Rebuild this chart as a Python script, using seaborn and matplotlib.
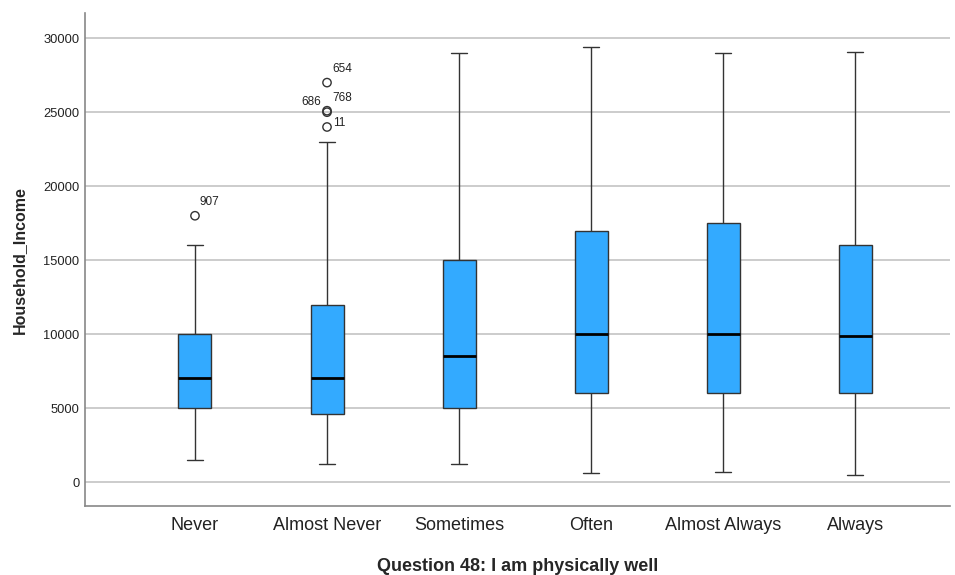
import pandas as pd
import matplotlib.pyplot as plt
import seaborn as sns

# Five-number summaries (low whisker, Q1, median, Q3, high whisker)
categories = ["Never", "Almost Never", "Sometimes", "Often", "Almost Always", "Always"]
whisker_low = [1500, 1200, 1200, 600, 700, 500]
q1 = [5000, 4600, 5000, 6000, 6000, 6000]
median = [7000, 7000, 8500, 10000, 10000, 9900]
q3 = [10000, 12000, 15000, 17000, 17500, 16000]
whisker_high = [16000, 23000, 29000, 29400, 29000, 29100]

# Outliers with their case labels
outlier_cat = ["Never", "Almost Never", "Almost Never", "Almost Never", "Almost Never"]
outlier_val = [18000, 24000, 25000, 25100, 27000]
outlier_id = ["907", "11", "686", "768", "654"]

rows = []
for i, cat in enumerate(categories):
    for v in (whisker_low[i], q1[i], median[i], q3[i], whisker_high[i]):
        rows.append({"cat": cat, "income": v})
df = pd.DataFrame(rows)
out_df = pd.DataFrame({"cat": outlier_cat, "income": outlier_val, "id": outlier_id})

sns.set_style("white")
plt.rcParams["font.family"] = ["Liberation Sans", "DejaVu Sans"]

fig = plt.figure(figsize=(9.55, 5.75), dpi=100)
ax = fig.add_axes([0.089, 0.12, 0.906, 0.857])

sns.boxplot(data=df, x="cat", y="income", order=categories, ax=ax,
            color="#33aaff", saturation=1, width=0.25, whis=(0, 100),
            showfliers=False, linecolor="#333333", linewidth=1,
            medianprops={"color": "black", "linewidth": 2},
            zorder=3)

sns.scatterplot(data=out_df, x="cat", y="income", ax=ax, marker="o", s=36,
                facecolor="none", edgecolor="#333333", linewidth=1, zorder=4)

# case labels next to outliers
label_style = {"907": (3, 10, "left"), "11": (4, 3, "left"), "686": (-4, 7, "right"),
               "768": (4, 9, "left"), "654": (4, 10, "left")}
for c, v, t in zip(outlier_cat, outlier_val, outlier_id):
    dx, dy, ha = label_style[t]
    ax.annotate(t, (categories.index(c), v), xytext=(dx, dy), textcoords="offset points",
                ha=ha, va="center", fontsize=8.5, color="#222222")

ax.set_xlim(-0.833, 5.72)
ax.set_ylim(-1620, 31690)
ax.set_yticks([0, 5000, 10000, 15000, 20000, 25000, 30000])
ax.yaxis.grid(True, color="#c8c8c8", linewidth=1.3, zorder=0)
ax.set_axisbelow(True)

for s in ["top", "right"]:
    ax.spines[s].set_visible(False)
for s in ["left", "bottom"]:
    ax.spines[s].set_color("#888888")
    ax.spines[s].set_linewidth(1.2)

ax.tick_params(axis="x", length=0, labelsize=13, colors="#222222", pad=8)
ax.tick_params(axis="y", length=0, labelsize=9.3, colors="#222222", pad=4)

ax.set_xlabel("Question 48: I am physically well", fontsize=13, fontweight="bold", labelpad=17)
ax.set_ylabel("Household_Income", fontsize=11.5, fontweight="bold", labelpad=12)

plt.savefig("out.png", dpi=100)
